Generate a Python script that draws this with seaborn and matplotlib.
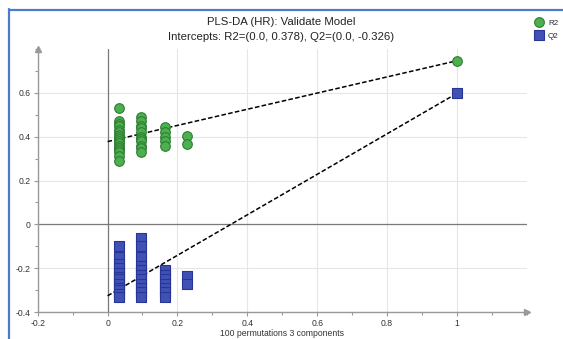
import numpy as np
import pandas as pd
import matplotlib
matplotlib.use("Agg")
import matplotlib.pyplot as plt
import seaborn as sns
from matplotlib.lines import Line2D

# ---- data ----
r2_x = [0.034] * 17 + [0.097] * 11 + [0.163] * 5 + [0.226] * 2 + [1.0]
r2_y = [0.53, 0.47, 0.46, 0.45, 0.43, 0.42, 0.41, 0.40, 0.39, 0.38, 0.37, 0.36, 0.35, 0.34, 0.33, 0.31, 0.29,
        0.49, 0.47, 0.45, 0.44, 0.42, 0.40, 0.39, 0.38, 0.36, 0.35, 0.33,
        0.445, 0.42, 0.40, 0.38, 0.36,
        0.405, 0.365,
        0.747]
q2_x = [0.034] * 12 + [0.097] * 11 + [0.163] * 7 + [0.226] * 2 + [1.0]
q2_y = [-0.10, -0.15, -0.18, -0.20, -0.22, -0.24, -0.25, -0.27, -0.29, -0.30, -0.32, -0.33,
        -0.06, -0.10, -0.15, -0.19, -0.21, -0.23, -0.25, -0.27, -0.29, -0.31, -0.33,
        -0.21, -0.23, -0.25, -0.27, -0.29, -0.31, -0.33,
        -0.235, -0.27,
        0.598]
r2_intercept = [0.0, 0.378]
q2_intercept = [0.0, -0.326]
x_ticks = [-0.2, 0, 0.2, 0.4, 0.6, 0.8, 1]
x_tick_labels = ["-0.2", "0", "0.2", "0.4", "0.6", "0.8", "1"]
y_ticks = [-0.4, -0.2, 0, 0.2, 0.4, 0.6]
y_tick_labels = ["-0.4", "-0.2", "0", "0.2", "0.4", "0.6"]
title_line1 = "PLS-DA (HR): Validate Model"
title_line2 = "Intercepts: R2=(0.0, 0.378), Q2=(0.0, -0.326)"
xlabel = "100 permutations 3 components"

df = pd.DataFrame({
    "x": r2_x + q2_x,
    "y": r2_y + q2_y,
    "series": ["R2"] * len(r2_x) + ["Q2"] * len(q2_x),
})

sns.set_style("white")
plt.rcParams["font.family"] = ["Liberation Sans", "DejaVu Sans"]

W, H = 563, 339
fig = plt.figure(figsize=(W / 100, H / 100), dpi=100)
ax = fig.add_axes([0.067, 0.0796, 0.8685, 0.7754])

green_fill, green_edge = "#4caf50", "#2e7d32"
blue_fill, blue_edge = "#3f51b5", "#283593"

# regression lines (from intercept to the unpermuted point)
ax.plot([r2_intercept[0], r2_x[-1]], [r2_intercept[1], r2_y[-1]], ls=(0, (3, 1.5)), color="black", lw=1.1, zorder=2)
ax.plot([q2_intercept[0], q2_x[-1]], [q2_intercept[1], q2_y[-1]], ls=(0, (3, 1.5)), color="black", lw=1.1, zorder=2)

sns.scatterplot(data=df[df.series == "R2"], x="x", y="y", marker="o", s=48,
                color=green_fill, edgecolor=green_edge, linewidth=0.8, ax=ax, zorder=3, legend=False)
sns.scatterplot(data=df[df.series == "Q2"], x="x", y="y", marker="s", s=48,
                color=blue_fill, edgecolor=blue_edge, linewidth=0.8, ax=ax, zorder=3, legend=False)

ax.set_xlim(-0.2, 1.2)
ax.set_ylim(-0.4, 0.8)
ax.set_xticks(x_ticks)
ax.set_xticklabels(x_tick_labels)
ax.set_yticks(y_ticks)
ax.set_yticklabels(y_tick_labels)
ax.set_xticks(np.arange(-0.2, 1.21, 0.1), minor=True)
ax.set_yticks(np.arange(-0.4, 0.81, 0.1), minor=True)
ax.tick_params(axis="both", which="major", labelsize=6.2, colors="#999999", labelcolor="#333333",
               length=3, width=0.8, direction="out", pad=2)
ax.tick_params(axis="both", which="minor", colors="#999999", length=2, width=0.8, direction="out")
ax.tick_params(axis="x", which="both", bottom=True)
ax.tick_params(axis="y", which="both", left=True)

ax.grid(True, which="major", color="#e6e6e6", lw=0.8, zorder=0)
ax.axhline(0, color="#7a7a7a", lw=0.9, zorder=1)
ax.axvline(0, color="#7a7a7a", lw=0.9, zorder=1)

for side in ["top", "right"]:
    ax.spines[side].set_visible(False)
for side in ["left", "bottom"]:
    ax.spines[side].set_color("#999999")
    ax.spines[side].set_linewidth(1.0)
ax.plot(1.0, 0, marker=">", color="#999999", ms=5, transform=ax.transAxes, clip_on=False, zorder=4)
ax.plot(0, 1.0, marker="^", color="#999999", ms=5, transform=ax.transAxes, clip_on=False, zorder=4)

ax.set_xlabel(xlabel, fontsize=6.2, color="#333333", labelpad=1)
ax.set_ylabel("")
fig.text(0.5, 1 - 22 / H, title_line1, ha="center", va="center", fontsize=8.2, color="#222222")
fig.text(0.5, 1 - 36.5 / H, title_line2, ha="center", va="center", fontsize=8.2, color="#222222")

# legend
handles = [
    Line2D([], [], marker="o", ls="", ms=7, markerfacecolor=green_fill, markeredgecolor=green_edge, markeredgewidth=0.8, label="R2"),
    Line2D([], [], marker="s", ls="", ms=7, markerfacecolor=blue_fill, markeredgecolor=blue_edge, markeredgewidth=0.8, label="Q2"),
]
fig.legend(handles=handles, loc="upper left", bbox_to_anchor=(535 / W, 1 - 19.5 / H), frameon=False,
           fontsize=5.8, handletextpad=0.6, labelspacing=0.65, borderaxespad=0, borderpad=0,
           handlelength=1.0)

# blue frame on left and top
fig.add_artist(Line2D([8.5 / W, 8.5 / W], [0, 1 - 9 / H], color="#4a7bd0", lw=1.6, transform=fig.transFigure))
fig.add_artist(Line2D([8.5 / W, 1], [1 - 9.5 / H, 1 - 9.5 / H], color="#4a7bd0", lw=1.6, transform=fig.transFigure))

fig.savefig("out.png", dpi=100)
